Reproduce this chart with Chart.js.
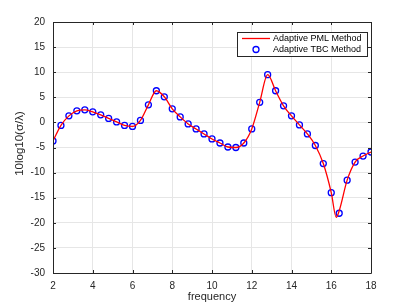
<!DOCTYPE html>
<html>
<head>
<meta charset="utf-8">
<script src="https://cdn.jsdelivr.net/npm/chart.js@4.4.0/dist/chart.umd.min.js"></script>
<style>
  html, body { margin: 0; padding: 0; background: #fff; }
  #wrap { width: 410px; height: 307px; }
</style>
</head>
<body>
<div id="wrap"><canvas id="rcs-chart" width="410" height="307"></canvas></div>
<script>
// frequency samples (TBC markers every 0.4)
const freqTBC = [2, 2.4, 2.8, 3.2, 3.6, 4, 4.4, 4.8, 5.2, 5.6, 6, 6.4, 6.8, 7.2, 7.6, 8, 8.4, 8.8, 9.2, 9.6,
  10, 10.4, 10.8, 11.2, 11.6, 12, 12.4, 12.8, 13.2, 13.6, 14, 14.4, 14.8, 15.2, 15.6, 16, 16.4, 16.8, 17.2, 17.6, 18];
const rcsTBC = [-3.7, -0.6, 1.3, 2.3, 2.5, 2.1, 1.5, 0.8, 0.1, -0.6, -0.8, 0.4, 3.5, 6.3, 5.1, 2.7, 1.1, -0.3, -1.3, -2.3,
  -3.3, -4.1, -4.9, -5.0, -4.1, -1.3, 4.0, 9.5, 6.3, 3.3, 1.3, -0.5, -2.3, -4.6, -8.2, -14.0, -18.1, -11.5, -7.9, -6.7, -5.9];

// PML curve (same samples plus the dip minimum)
const freqPML = [2, 2.4, 2.8, 3.2, 3.6, 4, 4.4, 4.8, 5.2, 5.6, 6, 6.4, 6.8, 7.2, 7.6, 8, 8.4, 8.8, 9.2, 9.6,
  10, 10.4, 10.8, 11.2, 11.6, 12, 12.4, 12.8, 13.2, 13.6, 14, 14.4, 14.8, 15.2, 15.6, 16, 16.25, 16.4, 16.8, 17.2, 17.6, 18];
const rcsPML = [-3.7, -0.6, 1.3, 2.3, 2.5, 2.1, 1.5, 0.8, 0.1, -0.6, -0.8, 0.4, 3.5, 6.3, 5.1, 2.7, 1.1, -0.3, -1.3, -2.3,
  -3.3, -4.1, -4.9, -5.0, -4.1, -1.3, 4.0, 9.5, 6.3, 3.3, 1.3, -0.5, -2.3, -4.6, -8.2, -14.0, -18.9, -17.6, -11.5, -7.9, -6.7, -5.9];

const seriesNames = ["Adaptive PML Method", "Adaptive TBC Method"];
const xTicks = [2, 4, 6, 8, 10, 12, 14, 16, 18];
const yTicks = [-30, -25, -20, -15, -10, -5, 0, 5, 10, 15, 20];

const FONT = "'Liberation Sans', Arial, sans-serif";
const AXIS_COLOR = "#262626";

// matlab style box, inward ticks, axis titles and legend
const matlabAxes = {
  id: "matlabAxes",
  afterDraw(chart) {
    const ctx = chart.ctx;
    const a = chart.chartArea;
    const xs = chart.scales.x, ys = chart.scales.y;
    ctx.save();
    ctx.strokeStyle = AXIS_COLOR;
    ctx.lineWidth = 1;
    ctx.beginPath();
    ctx.rect(Math.round(a.left) + 0.5, Math.round(a.top) + 0.5,
      Math.round(a.right - a.left), Math.round(a.bottom - a.top));
    ctx.stroke();
    ctx.beginPath();
    xTicks.forEach(v => {
      const px = Math.round(xs.getPixelForValue(v)) + 0.5;
      ctx.moveTo(px, a.bottom); ctx.lineTo(px, a.bottom - 3);
      ctx.moveTo(px, a.top); ctx.lineTo(px, a.top + 3);
    });
    yTicks.forEach(v => {
      const py = Math.round(ys.getPixelForValue(v)) + 0.5;
      ctx.moveTo(a.left, py); ctx.lineTo(a.left + 3, py);
      ctx.moveTo(a.right, py); ctx.lineTo(a.right - 3, py);
    });
    ctx.stroke();

    // axis titles
    ctx.fillStyle = AXIS_COLOR;
    ctx.font = "11px " + FONT;
    ctx.textAlign = "center";
    ctx.textBaseline = "middle";
    ctx.fillText("frequency", (a.left + a.right) / 2, 297);
    ctx.translate(20, (a.top + a.bottom) / 2 - 4);
    ctx.rotate(-Math.PI / 2);
    ctx.font = "11.5px " + FONT;
    ctx.fillText("10log10(\u03C3/\u03BB)", 0, 0);
    ctx.restore();

    // legend
    ctx.save();
    const bx = a.right - 134, by = a.top + 10, bw = 130, bh = 24;
    ctx.fillStyle = "#fff";
    ctx.fillRect(bx, by, bw, bh);
    ctx.strokeStyle = AXIS_COLOR;
    ctx.lineWidth = 1;
    ctx.strokeRect(Math.round(bx) + 0.5, Math.round(by) + 0.5, bw, bh);
    const r1 = by + 6.5, r2 = by + 17.5;
    ctx.strokeStyle = "#ff0000";
    ctx.lineWidth = 1.3;
    ctx.beginPath();
    ctx.moveTo(bx + 5, r1); ctx.lineTo(bx + 33, r1);
    ctx.stroke();
    ctx.strokeStyle = "#0000ff";
    ctx.beginPath();
    ctx.arc(bx + 19, r2, 3, 0, Math.PI * 2);
    ctx.stroke();
    ctx.fillStyle = "#000";
    ctx.font = "9px " + FONT;
    ctx.textAlign = "left";
    ctx.textBaseline = "middle";
    ctx.fillText(seriesNames[0], bx + 36, r1);
    ctx.fillText(seriesNames[1], bx + 36, r2);
    ctx.restore();
  }
};

const config = {
  type: "scatter",
  data: {
    datasets: [
      {
        label: seriesNames[0],
        data: freqPML.map((f, i) => ({ x: f, y: rcsPML[i] })),
        showLine: true,
        borderColor: "#ff0000",
        borderWidth: 1.3,
        pointRadius: 0,
        cubicInterpolationMode: "monotone",
        fill: false
      },
      {
        label: seriesNames[1],
        data: freqTBC.map((f, i) => ({ x: f, y: rcsTBC[i] })),
        showLine: false,
        borderColor: "#0000ff",
        backgroundColor: "rgba(0,0,0,0)",
        borderWidth: 1.3,
        pointRadius: 3,
        pointStyle: "circle"
      }
    ]
  },
  options: {
    responsive: false,
    animation: false,
    layout: { padding: { left: 0, top: 22, right: 39, bottom: 0 } },
    plugins: { legend: { display: false }, tooltip: { enabled: false } },
    scales: {
      x: {
        type: "linear",
        min: 2, max: 18,
        afterBuildTicks: s => { s.ticks = xTicks.map(v => ({ value: v })); },
        afterFit: s => { s.height = 34; },
        grid: { color: "#e6e6e6", drawTicks: false },
        border: { display: false },
        ticks: { color: AXIS_COLOR, font: { family: FONT, size: 10 }, padding: 7, maxRotation: 0 }
      },
      y: {
        min: -30, max: 20,
        afterBuildTicks: s => { s.ticks = yTicks.map(v => ({ value: v })); },
        afterFit: s => { s.width = 53; },
        grid: { color: "#e6e6e6", drawTicks: false },
        border: { display: false },
        ticks: { color: AXIS_COLOR, font: { family: FONT, size: 10 }, padding: 8 }
      }
    }
  },
  plugins: [matlabAxes]
};

new Chart(document.getElementById("rcs-chart").getContext("2d"), config);
</script>
</body>
</html>
